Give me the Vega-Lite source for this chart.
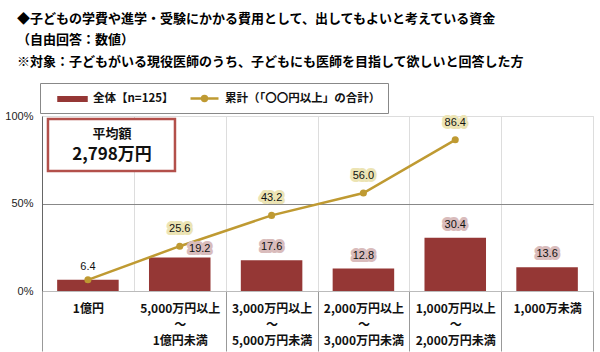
{
  "$schema": "https://vega.github.io/schema/vega-lite/v6.json",
  "width": 551,
  "height": 175,
  "autosize": {"type": "none"},
  "padding": {"left": 42, "top": 116, "right": 7, "bottom": 61},
  "background": "white",
  "title": {
    "text": ["◆子どもの学費や進学・受験にかかる費用として、出してもよいと考えている資金", "（自由回答：数値）", "※対象：子どもがいる現役医師のうち、子どもにも医師を目指して欲しいと回答した方"],
    "anchor": "start",
    "frame": "group",
    "dx": -25,
    "offset": 14,
    "fontSize": 13,
    "fontWeight": "bold",
    "font": "Noto Sans CJK JP",
    "lineHeight": 21.5,
    "color": "black"
  },
  "config": {
    "font": "Noto Sans CJK JP",
    "view": {"stroke": "#dddddd"}
  },
  "data": {
    "values": [
      {"cat": "1億円", "pct": 6.4, "cum": 6.4},
      {"cat": "5,000万円以上|～|1億円未満", "pct": 19.2, "cum": 25.6},
      {"cat": "3,000万円以上|～|5,000万円未満", "pct": 17.6, "cum": 43.2},
      {"cat": "2,000万円以上|～|3,000万円未満", "pct": 12.8, "cum": 56.0},
      {"cat": "1,000万円以上|～|2,000万円未満", "pct": 30.4, "cum": 86.4},
      {"cat": "1,000万未満", "pct": 13.6, "cum": null}
    ]
  },
  "layer": [
    {
      "layer": [
        {
          "mark": {"type": "bar", "width": {"band": 0.67}},
          "encoding": {
            "x": {
              "field": "cat", "type": "nominal", "sort": null,
              "scale": {"paddingInner": 0, "paddingOuter": 0},
              "axis": {
                "title": null, "labelAngle": 0,
                "labelExpr": "split(datum.label, '|')",
                "labelFontSize": 12, "labelFontWeight": "bold",
                "labelLineHeight": 16, "labelBaseline": "top",
                "labelColor": "#111111",
                "tickBand": "extent", "ticks": true, "tickSize": 60,
                "tickColor": {"condition": {"test": "datum.value === '1億円'", "value": "transparent"}, "value": "#999999"},
                "grid": true, "gridColor": "#dddddd",
                "domainColor": "#bbbbbb",
                "labelPadding": -48
              }
            },
            "y": {
              "field": "pct", "type": "quantitative",
              "scale": {"domain": [0, 100]},
              "axis": {
                "title": null, "values": [0, 50, 100],
                "labelExpr": "datum.value + '%'",
                "ticks": false, "labelPadding": 9,
                "labelFontSize": 11, "labelFont": "Liberation Sans",
                "labelColor": "#222222",
                "grid": true,
                "gridColor": {"condition": {"test": "datum.value === 50", "value": "#888888"}, "value": "#dddddd"},
                "domainColor": "#666666"
              }
            },
            "color": {
              "datum": "全体【n=125】",
              "scale": {"domain": ["全体【n=125】", "累計（「〇〇円以上」の合計）"], "range": ["#953735", "#bf9a32"]},
              "legend": {
                "orient": "none", "legendX": -2, "legendY": -33,
                "direction": "horizontal", "title": null,
                "strokeColor": "#888888", "fillColor": "white",
                "padding": 7, "symbolOffset": 17, "columnPadding": 5,
                "labelOffset": 12, "symbolSize": 196,
                "labelFontSize": 11.5, "labelFontWeight": "bold", "labelColor": "#111111",
                "encode": {
                  "symbols": {
                    "update": {
                      "shape": {"signal": "datum.value === '全体【n=125】' ? 'M-2,-0.25H2V0.25H-2Z' : 'M-2,0H2M0.35,0A0.35,0.35,0,1,1,-0.35,0A0.35,0.35,0,1,1,0.35,0Z'"},
                      "fill": {"scale": "color", "field": "value"},
                      "stroke": {"scale": "color", "field": "value"},
                      "strokeWidth": {"value": 2.5},
                      "opacity": {"value": 1}
                    }
                  }
                }
              }
            }
          }
        },
        {
          "mark": {"type": "line", "strokeWidth": 2.5, "point": {"filled": true, "size": 50}},
          "encoding": {
            "x": {"field": "cat", "type": "nominal", "sort": null},
            "y": {"field": "cum", "type": "quantitative"},
            "color": {"datum": "累計（「〇〇円以上」の合計）"}
          }
        },
        {
          "transform": [{"filter": "datum.cat !== '1億円' && datum.cat !== '5,000万円以上|～|1億円未満'"}],
          "mark": {"type": "text", "dy": -13, "fontSize": 11, "font": "Liberation Sans", "fill": "#d9bcbc", "stroke": "#d9bcbc", "strokeWidth": 6, "strokeJoin": "round"},
          "encoding": {
            "x": {"field": "cat", "type": "nominal", "sort": null},
            "y": {"field": "pct", "type": "quantitative"},
            "text": {"field": "pct", "type": "quantitative", "format": ".1f"}
          }
        },
        {
          "transform": [{"filter": "datum.cat !== '1億円' && datum.cat !== '5,000万円以上|～|1億円未満'"}],
          "mark": {"type": "text", "dy": -13, "fontSize": 11, "font": "Liberation Sans", "fill": "#111111"},
          "encoding": {
            "x": {"field": "cat", "type": "nominal", "sort": null},
            "y": {"field": "pct", "type": "quantitative"},
            "text": {"field": "pct", "type": "quantitative", "format": ".1f"}
          }
        },
        {
          "transform": [{"filter": "datum.cat === '5,000万円以上|～|1億円未満'"}],
          "mark": {"type": "text", "dy": -8, "dx": 20, "fontSize": 11, "font": "Liberation Sans", "fill": "#d9bcbc", "stroke": "#d9bcbc", "strokeWidth": 6, "strokeJoin": "round"},
          "encoding": {
            "x": {"field": "cat", "type": "nominal", "sort": null},
            "y": {"field": "pct", "type": "quantitative"},
            "text": {"field": "pct", "type": "quantitative", "format": ".1f"}
          }
        },
        {
          "transform": [{"filter": "datum.cat === '5,000万円以上|～|1億円未満'"}],
          "mark": {"type": "text", "dy": -8, "dx": 20, "fontSize": 11, "font": "Liberation Sans", "fill": "#111111"},
          "encoding": {
            "x": {"field": "cat", "type": "nominal", "sort": null},
            "y": {"field": "pct", "type": "quantitative"},
            "text": {"field": "pct", "type": "quantitative", "format": ".1f"}
          }
        },
        {
          "transform": [{"filter": "datum.cum != null && datum.cat !== '1億円'"}],
          "mark": {"type": "text", "dy": -17, "fontSize": 11, "font": "Liberation Sans", "fill": "#ece4b4", "stroke": "#ece4b4", "strokeWidth": 6, "strokeJoin": "round"},
          "encoding": {
            "x": {"field": "cat", "type": "nominal", "sort": null},
            "y": {"field": "cum", "type": "quantitative"},
            "text": {"field": "cum", "type": "quantitative", "format": ".1f"}
          }
        },
        {
          "transform": [{"filter": "datum.cum != null && datum.cat !== '1億円'"}],
          "mark": {"type": "text", "dy": -17, "fontSize": 11, "font": "Liberation Sans", "fill": "#111111"},
          "encoding": {
            "x": {"field": "cat", "type": "nominal", "sort": null},
            "y": {"field": "cum", "type": "quantitative"},
            "text": {"field": "cum", "type": "quantitative", "format": ".1f"}
          }
        },
        {
          "transform": [{"filter": "datum.cat === '1億円'"}],
          "mark": {"type": "text", "dy": -13, "fontSize": 11, "font": "Liberation Sans", "fill": "#111111"},
          "encoding": {
            "x": {"field": "cat", "type": "nominal", "sort": null},
            "y": {"field": "cum", "type": "quantitative"},
            "text": {"field": "cum", "type": "quantitative", "format": ".1f"}
          }
        }
      ]
    },
    {
      "data": {"values": [{"label": "平均額", "value": "2,798万円"}]},
      "layer": [
        {
          "mark": {"type": "rect", "fill": "white", "stroke": "#b3504b", "strokeWidth": 2.5},
          "encoding": {
            "x": {"datum": 0.065, "type": "quantitative", "scale": {"domain": [0, 6], "nice": false, "zero": false}, "axis": null},
            "x2": {"datum": 1.448},
            "y": {"datum": 68.6, "type": "quantitative"},
            "y2": {"datum": 98.3}
          }
        },
        {
          "mark": {"type": "text", "fontSize": 13, "fontWeight": "bold", "fill": "#111111"},
          "encoding": {
            "x": {"datum": 0.762, "type": "quantitative"},
            "y": {"datum": 89.9, "type": "quantitative"},
            "text": {"field": "label"}
          }
        },
        {
          "mark": {"type": "text", "fontSize": 17, "fontWeight": "bold", "fill": "#111111"},
          "encoding": {
            "x": {"datum": 0.762, "type": "quantitative"},
            "y": {"datum": 77.6, "type": "quantitative"},
            "text": {"field": "value"}
          }
        }
      ]
    }
  ],
  "resolve": {"scale": {"x": "independent"}, "axis": {"x": "independent"}}
}
